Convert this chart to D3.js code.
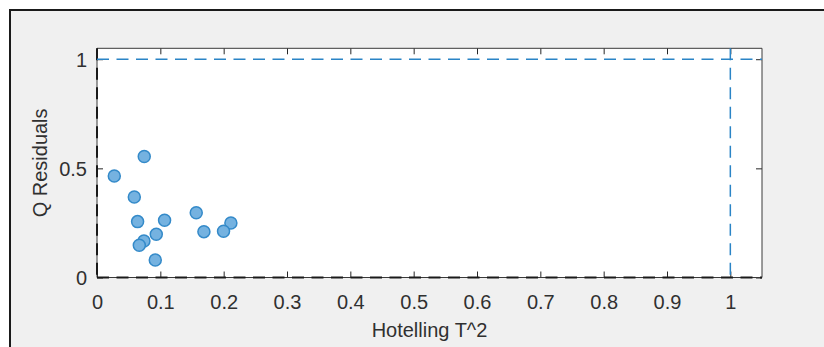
<!DOCTYPE html>
<html>
<head>
<meta charset="utf-8">
<script src="https://cdn.jsdelivr.net/npm/d3@7"></script>
<style>
  html, body { margin: 0; padding: 0; background: #ffffff; }
  svg { display: block; }
  text { font-family: Arial, "Liberation Sans", Helvetica, sans-serif; fill: #303030; }
</style>
</head>
<body>
<svg id="chart" width="824" height="347"></svg>
<script>
// Hotelling T^2 vs Q residuals for each sample
const tSquared   = [0.0273, 0.0746, 0.0589, 0.0641, 0.1067, 0.0936, 0.0741, 0.0668, 0.0920, 0.1567, 0.1688, 0.2114, 0.1998];
const qResiduals = [0.465, 0.554, 0.369, 0.256, 0.262, 0.198, 0.167, 0.148, 0.080, 0.297, 0.210, 0.250, 0.212];

// Confidence limits
const tLimit = 1;
const qLimit = 1;

// Axis ticks and ranges
const xTicks = [0, 0.1, 0.2, 0.3, 0.4, 0.5, 0.6, 0.7, 0.8, 0.9, 1];
const yTicks = [0, 0.5, 1];
const xDomain = [0, 1.05];
const yDomain = [0, 1.05];
const xTitle = "Hotelling T^2";
const yTitle = "Q Residuals";

const svg = d3.select("#chart");

// Figure panel
svg.append("rect")
  .attr("x", 10).attr("y", 10)
  .attr("width", 830).attr("height", 360)
  .attr("fill", "#f0f0f0")
  .attr("stroke", "#1a1a1a")
  .attr("stroke-width", 2);

const plotLeft = 97, plotRight = 762, plotTop = 48.3, plotBottom = 277.5;
const x = d3.scaleLinear().domain(xDomain).range([plotLeft, plotRight]);
const y = d3.scaleLinear().domain(yDomain).range([plotBottom, plotTop]);

// Plot area
svg.append("rect")
  .attr("x", plotLeft).attr("y", plotTop)
  .attr("width", plotRight - plotLeft).attr("height", plotBottom - plotTop)
  .attr("fill", "#ffffff");

const fmt = d3.format("~g");
const fontSize = 20;
const textColor = "#303030";

// Bottom axis with inward ticks
const gx = svg.append("g")
  .attr("transform", `translate(0,${plotBottom})`)
  .call(d3.axisBottom(x).tickValues(xTicks).tickSize(-6).tickFormat(fmt));
gx.select(".domain").remove();
gx.selectAll("line").attr("stroke", "#262626");
gx.selectAll("text")
  .attr("y", 31.5).attr("dy", null)
  .style("font-size", fontSize + "px")
  .attr("fill", textColor);

// Top axis ticks
const gxt = svg.append("g")
  .attr("transform", `translate(0,${plotTop})`)
  .call(d3.axisTop(x).tickValues(xTicks).tickSize(-6).tickFormat(""));
gxt.select(".domain").remove();
gxt.selectAll("line").attr("stroke", "#262626");

// Left axis
const gy = svg.append("g")
  .attr("transform", `translate(${plotLeft},0)`)
  .call(d3.axisLeft(y).tickValues(yTicks).tickSize(-6).tickFormat(fmt));
gy.select(".domain").remove();
gy.selectAll("line").attr("stroke", "#262626");
gy.selectAll("text")
  .attr("x", -10).attr("dy", "0.36em")
  .style("font-size", fontSize + "px")
  .attr("fill", textColor);

// Right axis ticks
const gyr = svg.append("g")
  .attr("transform", `translate(${plotRight},0)`)
  .call(d3.axisRight(y).tickValues(yTicks).tickSize(-6).tickFormat(""));
gyr.select(".domain").remove();
gyr.selectAll("line").attr("stroke", "#262626");

// Box outline
svg.append("path")
  .attr("d", `M${plotLeft},${plotBottom}H${plotRight}V${plotTop}H${plotLeft}Z`)
  .attr("fill", "none")
  .attr("stroke", "#3a3a3a")
  .attr("stroke-width", 1);

// Zero reference lines (black dashed)
svg.append("line")
  .attr("x1", x(0)).attr("x2", x(0))
  .attr("y1", y(yDomain[1])).attr("y2", y(0))
  .attr("stroke", "#1a1a1a").attr("stroke-width", 2)
  .attr("stroke-dasharray", "12,7.5");
svg.append("line")
  .attr("x1", x(0)).attr("x2", x(xDomain[1]))
  .attr("y1", y(0)).attr("y2", y(0))
  .attr("stroke", "#1a1a1a").attr("stroke-width", 2)
  .attr("stroke-dasharray", "12,7.5");

// Limit lines (blue dashed)
svg.append("line")
  .attr("x1", x(0)).attr("x2", x(xDomain[1]))
  .attr("y1", y(qLimit)).attr("y2", y(qLimit))
  .attr("stroke", "#2a84c6").attr("stroke-width", 1.5)
  .attr("stroke-dasharray", "12,7.5");
svg.append("line")
  .attr("x1", x(tLimit)).attr("x2", x(tLimit))
  .attr("y1", y(yDomain[1])).attr("y2", y(0))
  .attr("stroke", "#2a84c6").attr("stroke-width", 1.5)
  .attr("stroke-dasharray", "12,7.5");

// Sample points
svg.append("g")
  .selectAll("circle")
  .data(d3.range(tSquared.length))
  .join("circle")
  .attr("cx", i => x(tSquared[i]))
  .attr("cy", i => y(qResiduals[i]))
  .attr("r", 6)
  .attr("fill", "#75b2e0")
  .attr("stroke", "#348ac9")
  .attr("stroke-width", 1.5);

// Axis titles
svg.append("text")
  .attr("x", (plotLeft + plotRight) / 2)
  .attr("y", 337)
  .attr("text-anchor", "middle")
  .style("font-size", fontSize + "px")
  .attr("fill", textColor)
  .text(xTitle);

svg.append("text")
  .attr("transform", `translate(47,${(plotTop + plotBottom) / 2}) rotate(-90)`)
  .attr("text-anchor", "middle")
  .style("font-size", fontSize + "px")
  .attr("fill", textColor)
  .text(yTitle);
</script>
</body>
</html>
